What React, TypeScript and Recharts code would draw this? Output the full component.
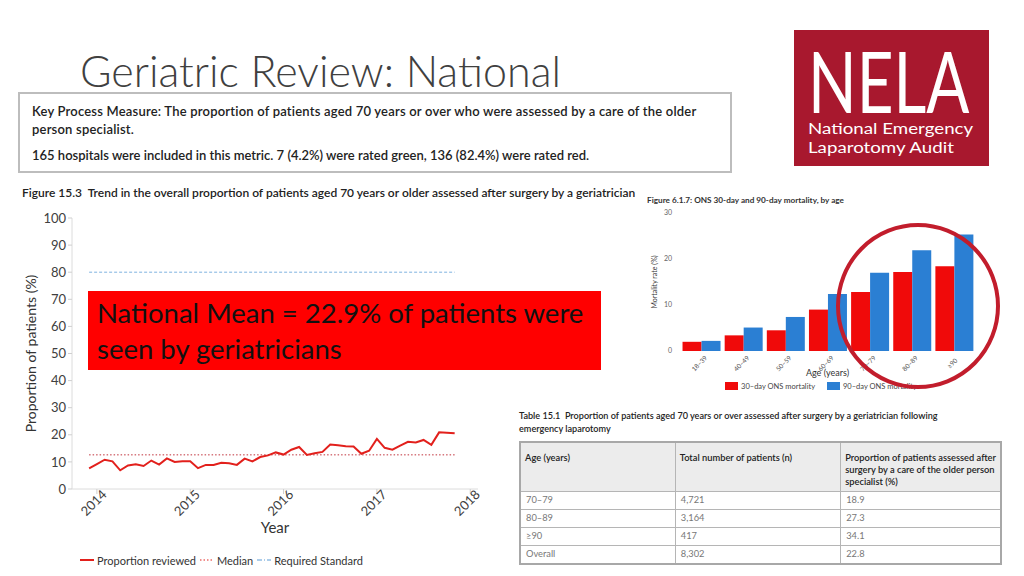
import React from 'react';
import {
  LineChart, Line, XAxis, YAxis, ReferenceLine, Legend,
  BarChart, Bar,
} from 'recharts';

// Figure 15.3 – monthly proportion reviewed, Dec 2013 .. Nov 2017
const proportionReviewed = [
  7.6, 9.2, 10.8, 10.2, 6.9, 8.7, 9.1, 8.5, 10.5, 9.0, 11.3, 10.0,
  10.2, 10.2, 7.7, 8.9, 8.9, 9.7, 9.5, 8.9, 11.2, 10.2, 11.8, 12.4,
  13.5, 12.7, 14.5, 15.5, 12.6, 13.2, 13.7, 16.4, 16.1, 15.8, 15.7, 13.0,
  14.1, 18.5, 15.2, 14.5, 16.0, 17.4, 17.2, 18.1, 16.3, 20.9, 20.8, 20.6,
];
const medianValue = 12.6;
const requiredStandard = 80;
const yearTicks = [1, 13, 25, 37, 49];
const yearLabels = ['2014', '2015', '2016', '2017', '2018'];
const proportionTicks = [0, 10, 20, 30, 40, 50, 60, 70, 80, 90, 100];

// Figure 6.1.7 – ONS mortality by age
const ageBands = ['18–39', '40–49', '50–59', '60–69', '70–79', '80–89', '≥90'];
const mortality30 = [2.0, 3.4, 4.5, 9.0, 12.8, 17.2, 18.4];
const mortality90 = [2.2, 5.1, 7.4, 12.4, 17.0, 21.9, 25.3];
const mortalityTicks = [0, 10, 20, 30];

// Table 15.1
const tableAges = ['70–79', '80–89', '≥90', 'Overall'];
const tablePatients = ['4,721', '3,164', '417', '8,302'];
const tableProportion = ['18.9', '27.3', '34.1', '22.8'];

const lineData = proportionReviewed.map((v, i) => ({ m: i, v }));
const barData = ageBands.map((age, i) => ({ age, d30: mortality30[i], d90: mortality90[i] }));

const RED = '#e2201c';
const FONT = 'Lato, "Open Sans", sans-serif';

function YearTick(props: any) {
  const { x, y, payload } = props;
  const label = yearLabels[yearTicks.indexOf(payload.value)];
  return (
    <text
      transform={`translate(${x},${y + 10}) rotate(-45)`}
      textAnchor="middle"
      fontSize={13}
      fill="#404040"
      fontFamily={FONT}
    >
      {label}
    </text>
  );
}

function AgeTick(props: any) {
  const { x, y, payload } = props;
  return (
    <text
      transform={`translate(${x},${y + 6}) rotate(-45)`}
      textAnchor="middle"
      fontSize={6.5}
      fill="#555"
      fontFamily={FONT}
    >
      {payload.value}
    </text>
  );
}

function TrendLegend() {
  const item = (icon: React.ReactNode, text: string) => (
    <span style={{ display: 'inline-flex', alignItems: 'center', marginRight: 4 }}>
      <svg width={15} height={10}>{icon}</svg>
      <span style={{ marginLeft: 2 }}>{text}</span>
    </span>
  );
  return (
    <div style={{ height: 22, paddingLeft: 60, fontSize: 11, color: '#333', fontFamily: FONT, display: 'flex', alignItems: 'center' }}>
      {item(<line x1={0} y1={5} x2={14} y2={5} stroke={RED} strokeWidth={2} />, 'Proportion reviewed')}
      {item(<line x1={0} y1={5} x2={14} y2={5} stroke={RED} strokeWidth={1.2} strokeDasharray="1.5 2" />, 'Median')}
      {item(<line x1={0} y1={5} x2={14} y2={5} stroke="#5a9bd5" strokeWidth={1.2} strokeDasharray="5 2 1 2" />, 'Required Standard')}
    </div>
  );
}

function MortalityLegend() {
  const item = (color: string, text: string) => (
    <span style={{ display: 'inline-flex', alignItems: 'center', marginRight: 12 }}>
      <span style={{ width: 13, height: 8, background: color, display: 'inline-block' }} />
      <span style={{ marginLeft: 3 }}>{text}</span>
    </span>
  );
  return (
    <div style={{ height: 12, fontSize: 7.5, color: '#444', fontFamily: FONT, display: 'flex', justifyContent: 'center', alignItems: 'center', paddingLeft: 30 }}>
      {item('#f00a0a', '30–day ONS mortality')}
      {item('#2b7fd3', '90–day ONS mortality')}
    </div>
  );
}

const abs = (left: number, top: number, extra: React.CSSProperties = {}): React.CSSProperties => ({
  position: 'absolute', left, top, ...extra,
});

export default function App() {
  const cell: React.CSSProperties = { border: '1px solid #b5b5b5', padding: '2px 5px', verticalAlign: 'top' };
  const head: React.CSSProperties = { ...cell, padding: '9px 4px 3px', fontWeight: 600, whiteSpace: 'nowrap' };
  return (
    <div style={{ position: 'absolute', left: 0, top: 0, width: 1024, height: 576, background: '#fff', overflow: 'hidden', fontFamily: FONT }}>
      {/* slide title */}
      <div style={abs(80, 45, { fontSize: 43, color: '#404040', fontWeight: 300, lineHeight: '52px', whiteSpace: 'nowrap' })}>
        Geriatric Review: National
      </div>

      {/* NELA logo */}
      <svg style={abs(794, 10)} width={195} height={160}>
        <rect x={0} y={20} width={195} height={136} fill="#a8182e" />
        <text transform="translate(14,103) scale(0.75,1)" fontSize={85} fill="#fff" fontFamily={FONT}>NELA</text>
        <text transform="translate(14,124) scale(1.17,1)" fontSize={16} fill="#fff" fontFamily={FONT}>National Emergency</text>
        <text transform="translate(14,143) scale(1.17,1)" fontSize={16} fill="#fff" fontFamily={FONT}>Laparotomy Audit</text>
      </svg>

      {/* key process measure box */}
      <div style={abs(18, 92, { width: 710, height: 77, border: '2px solid #bdbdbd', color: '#222', fontSize: 13, fontWeight: 600 })}>
        <div style={{ position: 'absolute', left: 12, top: 8, lineHeight: '18px', whiteSpace: 'nowrap', letterSpacing: 0.2 }}>
          Key Process Measure: The proportion of patients aged 70 years or over who were assessed by a care of the older
          <br />
          person specialist.
        </div>
        <div style={{ position: 'absolute', left: 12, top: 52, lineHeight: '18px', whiteSpace: 'nowrap' }}>
          165 hospitals were included in this metric. 7 (4.2%) were rated green, 136 (82.4%) were rated red.
        </div>
      </div>

      {/* figure 15.3 caption */}
      <div style={abs(22, 185, { whiteSpace: 'nowrap', fontSize: 12, fontWeight: 600, color: '#222' })}>
        Figure 15.3&nbsp; Trend in the overall proportion of patients aged 70 years or older assessed after surgery by a geriatrician
      </div>

      {/* trend line chart */}
      <div style={abs(0, 200)}>
        <LineChart width={500} height={376} data={lineData} margin={{ top: 18, right: 22, bottom: 5, left: 20 }}>
          <XAxis
            dataKey="m"
            type="number"
            domain={[-2.2, 50]}
            ticks={yearTicks}
            interval={0}
            tick={<YearTick />}
            tickSize={5}
            axisLine={{ stroke: '#dcdcdc' }}
            tickLine={{ stroke: '#cfcfcf' }}
            height={60}
            allowDataOverflow
            label={{ value: 'Year', position: 'insideBottom', offset: 16, fontSize: 15, fill: '#333', fontFamily: FONT }}
          />
          <YAxis
            domain={[0, 100]}
            ticks={proportionTicks}
            interval={0}
            width={52}
            tick={{ fontSize: 13, fill: '#404040', fontFamily: FONT }}
            tickSize={4}
            axisLine={{ stroke: '#dcdcdc' }}
            tickLine={{ stroke: '#cfcfcf' }}
            label={{ value: 'Proportion of patients (%)', angle: -90, position: 'insideLeft', offset: 11, fontSize: 14, fill: '#333', fontFamily: FONT, style: { textAnchor: 'middle' } }}
          />
          <ReferenceLine
            segment={[{ x: 0, y: requiredStandard }, { x: 47, y: requiredStandard }]}
            stroke="#7fb2e0"
            strokeDasharray="3 2"
            strokeWidth={1}
          />
          <ReferenceLine
            segment={[{ x: 0, y: medianValue }, { x: 47, y: medianValue }]}
            stroke="#c0303a"
            strokeDasharray="1.5 2"
            strokeWidth={1}
          />
          <Line
            dataKey="v"
            stroke={RED}
            strokeWidth={2}
            dot={false}
            isAnimationActive={false}
            name="Proportion reviewed"
          />
          <Legend verticalAlign="bottom" align="left" content={<TrendLegend />} />
        </LineChart>
      </div>

      {/* national mean banner */}
      <div style={abs(88, 291, { width: 513, height: 79, background: '#ff0000', color: '#111', fontSize: 27.5, lineHeight: '36px', boxSizing: 'border-box', padding: '4px 9px', whiteSpace: 'nowrap' })}>
        National Mean = 22.9% of patients were
        <br />
        seen by geriatricians
      </div>

      {/* mortality bar chart */}
      <div style={abs(643, 192, { width: 365, height: 205, background: '#fff' })}>
        <div style={{ position: 'absolute', left: 4, top: 3, fontSize: 8.2, fontWeight: 700, color: '#333', whiteSpace: 'nowrap' }}>
          Figure 6.1.7: ONS 30-day and 90-day mortality, by age
        </div>
        <BarChart width={365} height={205} data={barData} margin={{ top: 21, right: 33, bottom: 5, left: 6 }} barGap={0} barCategoryGap="6%">
          <XAxis
            dataKey="age"
            tick={<AgeTick />}
            interval={0}
            axisLine={false}
            tickLine={false}
            height={29}
            label={{ value: 'Age (years)', position: 'insideBottom', offset: 4, fontSize: 9, fill: '#333', fontFamily: FONT }}
          />
          <YAxis
            domain={[0, 30]}
            ticks={mortalityTicks}
            width={31}
            tick={{ fontSize: 7, fill: '#666', fontFamily: FONT }}
            axisLine={false}
            tickLine={false}
            label={{ value: 'Mortality rate (%)', angle: -90, position: 'insideLeft', offset: 6, fontSize: 7, fill: '#333', fontFamily: FONT, style: { textAnchor: 'middle' } }}
          />
          <Bar dataKey="d30" fill="#f00a0a" isAnimationActive={false} name="30–day ONS mortality" />
          <Bar dataKey="d90" fill="#2b7fd3" isAnimationActive={false} name="90–day ONS mortality" />
          <Legend verticalAlign="bottom" content={<MortalityLegend />} />
        </BarChart>
      </div>

      {/* highlight circle */}
      <svg style={abs(830, 218)} width={180} height={180}>
        <ellipse cx={88} cy={88} rx={80} ry={81} fill="none" stroke="#c21d2c" strokeWidth={4} />
      </svg>

      {/* table 15.1 */}
      <div style={abs(519, 409, { width: 485, fontSize: 9.1, fontWeight: 600, color: '#222', lineHeight: '13px' })}>
        Table 15.1&nbsp; Proportion of patients aged 70 years or over assessed after surgery by a geriatrician following
        <br />
        emergency laparotomy
      </div>
      <table style={abs(519, 441, { width: 483, borderCollapse: 'collapse', border: '2px solid #a8a8a8', fontSize: 9.3, lineHeight: '12px' })}>
        <thead>
          <tr style={{ background: '#ececec', height: 49, color: '#222', textAlign: 'left' }}>
            <th style={{ ...head, width: 147 }}>Age (years)</th>
            <th style={{ ...head, width: 157 }}>Total number of patients (n)</th>
            <th style={head}>
              Proportion of patients assessed after
              <br />
              surgery by a care of the older person
              <br />
              specialist (%)
            </th>
          </tr>
        </thead>
        <tbody>
          {tableAges.map((age, i) => (
            <tr key={age} style={{ height: 18, color: '#777' }}>
              <td style={cell}>{age}</td>
              <td style={cell}>{tablePatients[i]}</td>
              <td style={cell}>{tableProportion[i]}</td>
            </tr>
          ))}
        </tbody>
      </table>
    </div>
  );
}
